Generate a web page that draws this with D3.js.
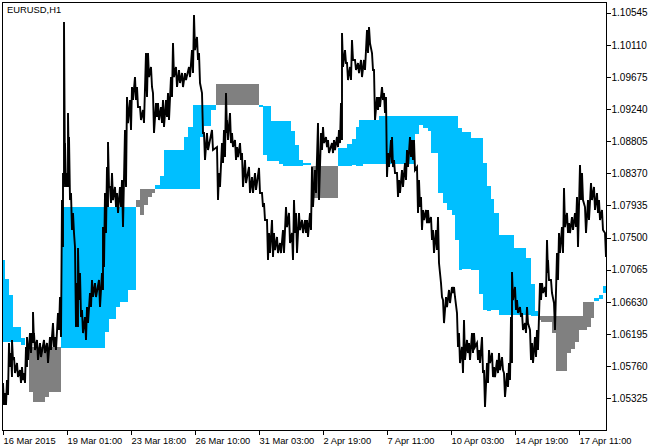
<!DOCTYPE html>
<html><head><meta charset="utf-8">
<script src="https://cdn.jsdelivr.net/npm/d3@7"></script>
<style>html,body{margin:0;padding:0;background:#fff;} svg{display:block;}</style>
</head><body><svg id="c" width="655" height="447"></svg>
<script>
const symbolTitle = "EURUSD,H1";
const timeTickBars = [0,64,128,192,256,320,384,448,512,576];
const timeTickLabels = ["16 Mar 2015","19 Mar 01:00","23 Mar 18:00","26 Mar 10:00","31 Mar 03:00","2 Apr 19:00","7 Apr 11:00","10 Apr 03:00","14 Apr 19:00","17 Apr 11:00"];
const priceTicks = [1.10545,1.10110,1.09675,1.09240,1.08805,1.08370,1.07935,1.07500,1.07065,1.06630,1.06195,1.05760,1.05325];

const priceBar = [1,3,5,7,9,10,12,15,18,20,22,24,25,28,30,31,32,35,38,42,45,48,51,53,56,58,60,61,62,63,65,66,67,69,71,73,75,76,78,80,83,85,88,90,93,97,100,101,103,105,106,108,110,113,115,118,120,123,125,128,130,133,135,138,141,144,146,149,151,154,156,159,161,164,166,169,171,174,177,180,183,187,190,192,195,197,200,202,205,210,215,217,220,222,224,225,228,230,233,235,238,240,243,247,250,253,257,260,262,265,267,270,272,275,278,281,284,287,290,292,294,297,300,303,305,308,310,313,316,319,321,324,326,330,332,335,337,339,340,343,345,348,350,353,356,359,362,365,367,370,372,375,377,380,382,384,386,389,390,392,395,397,400,403,405,408,410,412,415,417,419,421,424,426,429,431,434,436,439,441,444,447,450,452,455,457,460,462,465,467,470,472,475,477,480,482,485,487,490,492,495,497,500,502,505,507,509,510,513,515,518,520,523,525,528,530,533,535,538,540,543,545,546,549,552,555,557,560,562,565,567,570,573,575,578,580,583,586,589,592,595,597,600,603];
const priceHigh = [1.05531,1.05396,1.05572,1.06073,1.05937,1.06114,1.05883,1.05802,1.05707,1.05748,
1.05666,1.06019,1.06154,1.06208,1.06208,1.06493,1.06208,1.06114,1.06073,1.06114,
1.06073,1.06154,1.06343,1.06154,1.06479,1.06696,1.08009,1.08374,1.10419,1.08780,
1.08374,1.09187,1.08862,1.08104,1.07833,1.07373,1.06885,1.07360,1.07020,1.06520,
1.06425,1.06560,1.06750,1.06926,1.06885,1.06926,1.07020,1.07643,1.08104,1.08456,
1.08794,1.08185,1.08374,1.08185,1.08104,1.08185,1.08280,1.08957,1.09403,1.09363,
1.09539,1.09674,1.09539,1.09268,1.09228,1.09999,1.09999,1.09810,1.09457,1.09322,
1.09322,1.09268,1.09363,1.09363,1.09457,1.09674,1.10134,1.09810,1.09769,1.09728,
1.09728,1.09810,1.10040,1.10514,1.10216,1.09999,1.09457,1.08916,1.08916,1.08957,
1.08726,1.08374,1.08780,1.08957,1.09457,1.09092,1.09187,1.08916,1.08821,1.08726,
1.08780,1.08645,1.08551,1.08456,1.08320,1.08374,1.08443,1.08104,1.07968,1.07738,
1.07562,1.07738,1.07562,1.07508,1.07427,1.07603,1.07914,1.07833,1.07562,1.08009,
1.07833,1.07833,1.07738,1.07738,1.07738,1.07833,1.08456,1.08415,1.09051,1.08916,
1.08997,1.08862,1.08821,1.08780,1.08821,1.08862,1.08957,1.09322,1.10270,1.10040,
1.09864,1.09810,1.10175,1.09905,1.09864,1.09905,1.09905,1.10311,1.10351,1.09999,
1.09769,1.09403,1.09403,1.09539,1.09457,1.09403,1.08645,1.08821,1.08862,1.08551,
1.08374,1.08280,1.08415,1.08510,1.08686,1.08862,1.08821,1.08821,1.08456,1.08280,
1.08050,1.07874,1.07874,1.07874,1.07779,1.07603,1.07603,1.07779,1.06885,1.06655,
1.06696,1.06791,1.06831,1.06831,1.06479,1.06208,1.06019,1.06384,1.06114,1.06073,
1.06208,1.06208,1.06073,1.05978,1.06154,1.05707,1.05802,1.05978,1.05937,1.05748,
1.05843,1.05937,1.05883,1.05666,1.05666,1.05802,1.06425,1.07034,1.06831,1.06655,
1.06560,1.06479,1.06343,1.06560,1.06249,1.06073,1.06154,1.06249,1.06885,1.06885,
1.06831,1.07468,1.07197,1.06926,1.06614,1.07291,1.07562,1.07643,1.08172,1.07833,
1.07697,1.07779,1.07833,1.08050,1.08483,1.08374,1.07914,1.08009,1.08239,1.08185,
1.08104,1.08009,1.07874,1.07562];
const priceLow = [1.05233,1.05233,1.05369,1.05748,1.05612,1.05843,1.05666,1.05612,1.05531,1.05572,
1.05531,1.05748,1.05843,1.05937,1.06073,1.06073,1.05978,1.05843,1.05883,1.05937,
1.05802,1.05978,1.06019,1.05978,1.06249,1.06154,1.07373,1.08185,1.08239,1.08185,
1.08185,1.08280,1.08009,1.07603,1.07562,1.06289,1.06289,1.06655,1.06425,1.06208,
1.06114,1.06343,1.06560,1.06696,1.06696,1.06560,1.06791,1.07102,1.07562,1.07914,
1.08185,1.07968,1.08009,1.07914,1.07833,1.07914,1.07643,1.08185,1.09051,1.08957,
1.09363,1.09363,1.09268,1.09092,1.09051,1.09403,1.09674,1.09539,1.08916,1.09133,
1.09092,1.09051,1.08997,1.09133,1.09092,1.09403,1.09674,1.09539,1.09593,1.09539,
1.09634,1.09674,1.09728,1.10040,1.09905,1.09593,1.08916,1.08551,1.08686,1.08686,
1.08009,1.08185,1.08510,1.08591,1.08916,1.08821,1.08780,1.08726,1.08551,1.08591,
1.08551,1.08185,1.08239,1.08104,1.08104,1.08145,1.08104,1.07914,1.07738,1.07197,
1.07291,1.07237,1.07332,1.07291,1.07291,1.07291,1.07643,1.07427,1.07197,1.07562,
1.07291,1.07603,1.07562,1.07562,1.07508,1.07603,1.07914,1.08104,1.08009,1.08686,
1.08780,1.08726,1.08645,1.08645,1.08686,1.08726,1.08780,1.08821,1.09810,1.09864,
1.09634,1.09634,1.09905,1.09769,1.09728,1.09674,1.09769,1.09999,1.10134,1.09769,
1.09092,1.09228,1.09268,1.09363,1.09187,1.08320,1.08456,1.08510,1.08456,1.08374,
1.08050,1.08104,1.08185,1.08280,1.08456,1.08591,1.08551,1.08415,1.07833,1.07914,
1.07603,1.07738,1.07697,1.07697,1.07468,1.07291,1.07332,1.07156,1.06696,1.06343,
1.06560,1.06614,1.06750,1.06696,1.06019,1.05802,1.05666,1.05843,1.05937,1.05843,
1.05937,1.06019,1.05843,1.05802,1.05666,1.05206,1.05531,1.05802,1.05612,1.05612,
1.05666,1.05707,1.05707,1.05342,1.05477,1.05572,1.05802,1.06655,1.06520,1.06479,
1.06425,1.06249,1.06208,1.06343,1.05843,1.05802,1.05883,1.05978,1.06655,1.06750,
1.06696,1.07020,1.06926,1.06750,1.06249,1.06926,1.07291,1.07291,1.07643,1.07562,
1.07562,1.07603,1.07643,1.07373,1.08009,1.08009,1.07562,1.07738,1.08009,1.07874,
1.07833,1.07738,1.07603,1.07237];

const bandBar = [0,3,7,11,19,23,27,31,43,47,
59,103,107,114,118,126,134,138,142,146,
150,153,158,162,182,186,191,198,202,209,
214,257,261,265,269,277,281,289,293,297,
301,309,336,345,350,354,357,361,377,413,
417,421,426,429,436,441,445,450,453,456,
457,460,469,477,481,485,489,492,497,501,
512,524,529,533,536,539,550,554,565,569,
573,577,581,585,589,592,597,601];
const bandEndBar = 604;
const lineA = [1.07197,1.06939,1.06723,1.06293,1.06141,1.05910,1.05410,1.05274,1.05342,1.05410,
1.07918,1.07918,1.07918,1.07918,1.07918,1.07918,1.07918,1.07806,1.07941,1.08054,
1.08108,1.08212,1.08334,1.08686,1.08866,1.09001,1.09295,1.09295,1.09295,1.09295,
1.09295,1.09295,1.09282,1.09282,1.09083,1.09083,1.09083,1.08943,1.08753,1.08551,
1.08506,1.08041,1.08713,1.08767,1.08831,1.09001,1.09092,1.09092,1.09147,1.09147,
1.09147,1.09147,1.09147,1.09147,1.09147,1.09147,1.09147,1.09147,1.09147,1.08988,
1.08988,1.08926,1.08853,1.08853,1.08506,1.08199,1.08019,1.07829,1.07531,1.07531,
1.07356,1.07220,1.06872,1.06511,1.06384,1.06357,1.06212,1.05698,1.05941,1.06002,
1.06091,1.06249,1.06249,1.06293,1.06421,1.06679,1.06723,1.06845];
const lineB = [1.06091,1.06091,1.06091,1.06091,1.06046,1.06019,1.06019,1.06019,1.06019,1.06019,
1.06006,1.06226,1.06398,1.06564,1.06632,1.06791,1.08009,1.08158,1.08158,1.08158,
1.08158,1.08158,1.08158,1.08158,1.08158,1.08158,1.08158,1.08862,1.09011,1.09228,
1.09580,1.09268,1.08618,1.08542,1.08542,1.08506,1.08474,1.08474,1.08474,1.08474,
1.08474,1.08470,1.08474,1.08474,1.08474,1.08474,1.08474,1.08493,1.08493,1.08899,
1.09024,1.08980,1.08943,1.08649,1.08108,1.07964,1.07874,1.07806,1.07468,1.07468,
1.07071,1.07071,1.07071,1.06746,1.06511,1.06511,1.06511,1.06511,1.06452,1.06443,
1.06443,1.06443,1.06443,1.06443,1.06443,1.06443,1.06443,1.06443,1.06443,1.06443,
1.06443,1.06443,1.06632,1.06632,1.06632,1.06632,1.06669,1.06746];

const FONT = "'Liberation Sans', Arial, sans-serif";
const plot = {left:2, right:606, top:2, bottom:430};
const svg = d3.select('#c');
const x = d3.scaleLinear().domain([0, 604]).range([plot.left, plot.right]);
const y = d3.scaleLinear().domain([1.04895, 1.10690]).range([plot.bottom, plot.top]);

svg.append('defs').append('clipPath').attr('id','clip').append('rect')
  .attr('x', plot.left).attr('y', plot.top).attr('width', plot.right-plot.left).attr('height', plot.bottom-plot.top);
const g = svg.append('g').attr('clip-path','url(#clip)');

// indicator filled bands
const nB = Math.min(bandBar.length, lineA.length, lineB.length);
const bands = d3.range(nB).map(i => ({x0: bandBar[i], x1: i < nB-1 ? bandBar[i+1] : bandEndBar, a: lineA[i], b: lineB[i]}));
g.selectAll('rect.band').data(bands).join('rect').attr('class','band')
  .attr('x', d => Math.round(x(d.x0)))
  .attr('width', d => Math.round(x(d.x1)) - Math.round(x(d.x0)))
  .attr('y', d => Math.round(y(Math.max(d.a, d.b))))
  .attr('height', d => Math.max(1, Math.round(Math.abs(y(d.a) - y(d.b)))))
  .attr('fill', d => d.a >= d.b ? '#00BFFF' : '#808080')
  .attr('shape-rendering','crispEdges');

// price trace (high/low zigzag)
const nP = Math.min(priceBar.length, priceHigh.length, priceLow.length);
const pts = [];
for (let i = 0; i < nP; i++) {
  pts.push([x(priceBar[i]), y(priceHigh[i])]);
  pts.push([x(priceBar[i] + 1), y(priceLow[i])]);
}
g.append('path').attr('d', d3.line()(pts))
  .attr('fill','none').attr('stroke','#000').attr('stroke-width',1.9).attr('stroke-linejoin','miter');

// frame
svg.append('rect').attr('x', plot.left + 0.5).attr('y', plot.top + 0.5)
  .attr('width', plot.right - plot.left).attr('height', plot.bottom - plot.top)
  .attr('fill','none').attr('stroke','#000').attr('stroke-width',1).attr('shape-rendering','crispEdges');

// right price axis
const yAxis = d3.axisRight(y).tickValues(priceTicks).tickFormat(d3.format('.5f')).tickSize(4).tickSizeOuter(0).tickPadding(1);
const ya = svg.append('g').attr('transform', `translate(${plot.right + 0.5},0)`).call(yAxis);
ya.select('.domain').remove();
ya.selectAll('line').attr('stroke','#000').attr('shape-rendering','crispEdges');
ya.selectAll('text').attr('font-family', FONT).attr('font-size', 10).attr('fill','#000');

// bottom time axis
const xAxis = d3.axisBottom(x).tickValues(timeTickBars).tickFormat((d,i) => timeTickLabels[i]).tickSize(4).tickSizeOuter(0).tickPadding(2.5);
const xa = svg.append('g').attr('transform', `translate(0.5,${plot.bottom + 0.5})`).call(xAxis);
xa.select('.domain').remove();
xa.selectAll('line').attr('stroke','#000').attr('shape-rendering','crispEdges');
xa.selectAll('text').attr('font-family', FONT).attr('font-size', 9.3).attr('fill','#000')
  .attr('text-anchor','start').attr('x', 0.5);

// title
svg.append('text').attr('x', 7).attr('y', 13.3).text(symbolTitle)
  .attr('font-family', FONT).attr('font-size', 9.4).attr('fill','#000');
</script>
</body></html>
